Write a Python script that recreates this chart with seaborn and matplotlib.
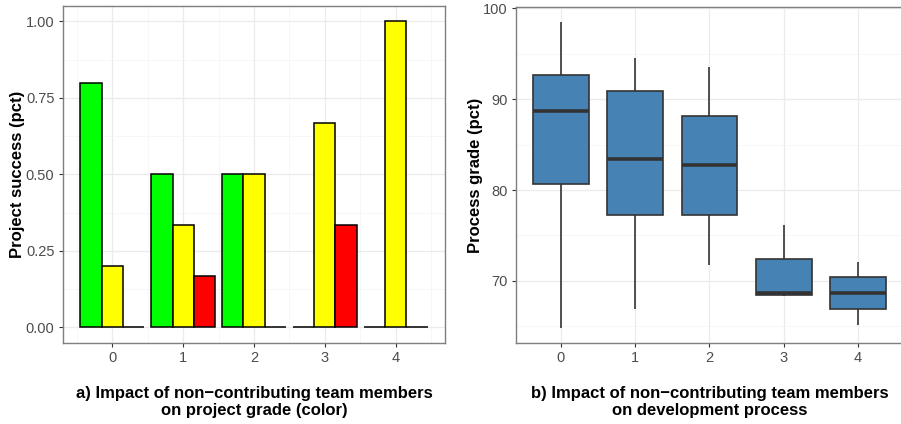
import pandas as pd
import numpy as np
import seaborn as sns
import matplotlib.pyplot as plt
from matplotlib.ticker import MultipleLocator

# left panel: share of projects per grade colour, by number of non-contributing members
members = [0, 1, 2, 3, 4]
grade_colors = ['green', 'yellow', 'red']
green_share = [0.80, 0.50, 0.50, 0.00, 0.00]
yellow_share = [0.20, 0.333, 0.50, 0.667, 1.00]
red_share = [0.00, 0.167, 0.00, 0.333, 0.00]

# right panel: process grade summary per group (min, q1, median, q3, max)
grade_0 = [64.8, 80.7, 88.7, 92.6, 98.5]
grade_1 = [66.9, 77.3, 83.4, 90.9, 94.5]
grade_2 = [71.8, 77.2, 82.7, 88.1, 93.5]
grade_3 = [68.3, 68.5, 68.7, 72.4, 76.1]
grade_4 = [65.1, 66.9, 68.7, 70.4, 72.1]

sns.set_theme(style='white')
plt.rcParams['font.family'] = ['Liberation Sans', 'DejaVu Sans']

bars = pd.DataFrame({
    'members': members * 3,
    'grade': ['green'] * 5 + ['yellow'] * 5 + ['red'] * 5,
    'success': green_share + yellow_share + red_share,
})
boxes = pd.DataFrame({
    'members': [m for m, g in zip(members, [grade_0, grade_1, grade_2, grade_3, grade_4]) for _ in g],
    'process': grade_0 + grade_1 + grade_2 + grade_3 + grade_4,
})

fig = plt.figure(figsize=(9.01, 4.24), dpi=100)
ax1 = fig.add_axes([0.0696, 0.1917, 0.4246, 0.7941])
ax2 = fig.add_axes([0.5730, 0.1917, 0.4288, 0.7911])

pal = {'green': '#00FF00', 'yellow': '#FFFF00', 'red': '#FF0000'}
sns.barplot(data=bars, x='members', y='success', hue='grade', hue_order=grade_colors,
            palette=pal, saturation=1, width=0.9, edgecolor='black', linewidth=1.1,
            legend=False, ax=ax1, zorder=3)
ax1.set_xlim(-0.7, 4.7)
ax1.set_ylim(-0.05, 1.05)
ax1.set_yticks([0, 0.25, 0.5, 0.75, 1.0])
ax1.set_yticklabels(['0.00', '0.25', '0.50', '0.75', '1.00'])
ax1.xaxis.set_minor_locator(MultipleLocator(0.5))
ax1.yaxis.set_minor_locator(MultipleLocator(0.125))
ax1.set_ylabel('Project success (pct)', fontsize=12, fontweight='bold', labelpad=0.5, color='black')
ax1.set_xlabel('a) Impact of non\u2212contributing team members\non project grade (color)',
               fontsize=12, fontweight='bold', labelpad=15, linespacing=1.15, color='black')

sns.boxplot(data=boxes, x='members', y='process', color='#4682B4', linecolor='#333333',
            linewidth=1.2, width=0.75, saturation=1, ax=ax2,
            medianprops=dict(linewidth=2.6), capprops=dict(linewidth=0), zorder=3)
ax2.set_xlim(-0.6, 4.6)
ax2.set_ylim(63.2, 100.1)
ax2.set_yticks([70, 80, 90, 100])
ax2.yaxis.set_minor_locator(MultipleLocator(5))
ax2.set_ylabel('Process grade (pct)', fontsize=12, fontweight='bold', labelpad=0.5, color='black')
ax2.set_xlabel('b) Impact of non\u2212contributing team members\non development process',
               fontsize=12, fontweight='bold', labelpad=15, linespacing=1.15, color='black')

for ax in (ax1, ax2):
    ax.set_axisbelow(True)
    ax.grid(True, which='major', color='#EBEBEB', linewidth=0.9)
    ax.grid(True, which='minor', color='#F4F4F4', linewidth=0.5)
    ax.tick_params(which='major', direction='out', length=3, width=0.8, color='#333333',
                   labelsize=10.5, labelcolor='#4D4D4D', pad=3,
                   bottom=True, left=True)
    ax.tick_params(which='minor', length=0)
    for s in ax.spines.values():
        s.set_color('#7F7F7F')
        s.set_linewidth(1.0)

fig.savefig('out.png', dpi=100)
